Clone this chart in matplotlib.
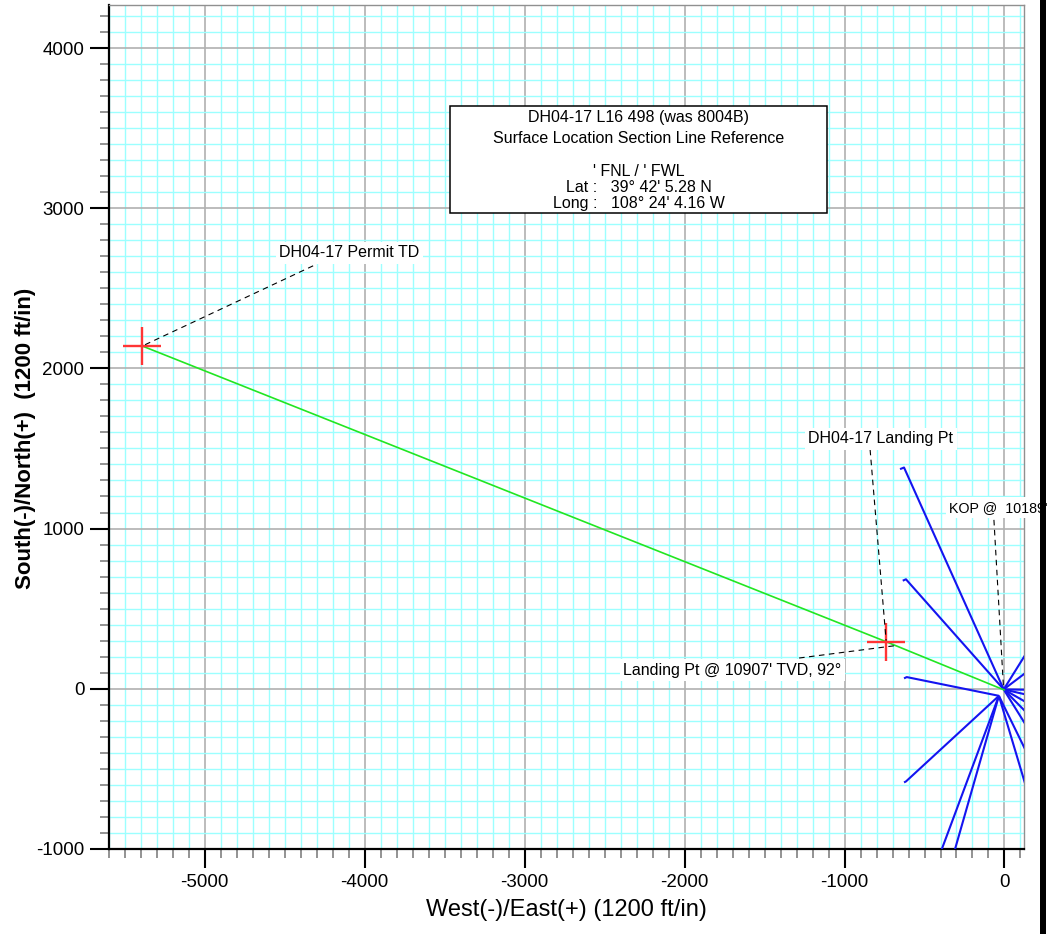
import matplotlib
matplotlib.use("Agg")
import matplotlib.pyplot as plt
from matplotlib.patches import Rectangle
from matplotlib.ticker import MultipleLocator

plt.rcParams['font.family'] = ['Liberation Sans', 'DejaVu Sans']

# ---------------- data ----------------
x_ticks = [-5000, -4000, -3000, -2000, -1000, 0]
y_ticks = [-1000, 0, 1000, 2000, 3000, 4000]
x_limits = (-5600, 122)
y_limits = (-1000, 4272)

# planned wellpath (surface -> landing -> permit TD)
plan_x = [-3, -740, -5390]
plan_y = [-8, 293, 2140]

# target crosses
target_x = [-5390, -740]
target_y = [2140, 293]

# offset wells (spider)
offset_x = [
    [-653, -628, -5],
    [-636, -616, -5],
    [-628, -611, -35],
    [-628, -616, -40],
    [-428, -35],
    [-337, -35],
    [-5, 200],
    [-5, 200],
    [-5, 200],
    [-5, 200],
    [-5, 200],
    [-5, 200],
    [-5, 200],
    [-35, 200],
    [-35, 200],
]
offset_y = [
    [1371, 1381, -5],
    [674, 683, -5],
    [64, 72, -45],
    [-586, -580, -50],
    [-1100, -45],
    [-1100, -45],
    [-5, 323],
    [-5, 150],
    [-5, -8],
    [-5, -52],
    [-5, -122],
    [-5, -213],
    [-5, -334],
    [-45, -524],
    [-45, -832],
]

# annotations: text, text position, leader start, leader end
ann_text = ["DH04-17 Permit TD", "DH04-17 Landing Pt", "KOP @  10189'",
            "Landing Pt @ 10907' TVD, 92\u00b0"]
ann_size = [11.5, 11.5, 10.3, 11.5]
ann_pos_x = [-4534, -1228, -347, -2384]
ann_pos_y = [2722, 1560, 1129, 116]
lead_x0 = [-4322, -840, -66, -1284]
lead_y0 = [2641, 1492, 1054, 191]
lead_x1 = [-5390, -740, -6, -670]
lead_y1 = [2140, 300, 4, 270]

box_lines = ["DH04-17 L16 498 (was 8004B)",
             "Surface Location Section Line Reference",
             "' FNL / ' FWL",
             "Lat :   39\u00b0 42' 5.28 N",
             "Long :   108\u00b0 24' 4.16 W"]
box_line_y = [3566, 3434, 3228, 3128, 3028]
box_x0, box_x1, box_y0, box_y1 = -3466, -1109, 2972, 3641

# ---------------- figure ----------------
W, H = 1057, 934
fig = plt.figure(figsize=(W / 100, H / 100), dpi=100)
L, R, T, B = 108.7, 1024, 4.7, 848.7
ax = fig.add_axes([L / W, (H - B) / H, (R - L) / W, (B - T) / H])
ax.set_xlim(*x_limits)
ax.set_ylim(*y_limits)

ax.xaxis.set_minor_locator(MultipleLocator(100))
ax.yaxis.set_minor_locator(MultipleLocator(100))
ax.set_xticks(x_ticks)
ax.set_yticks(y_ticks)
ax.set_xticklabels([str(v) for v in x_ticks])
ax.set_yticklabels([str(v) for v in y_ticks])

ax.grid(which='minor', color='#9cffff', lw=1.0, zorder=0)
ax.grid(which='major', color='#b0b0b0', lw=1.2, zorder=0)
ax.set_axisbelow(True)

ax.tick_params(which='major', direction='out', length=13.5, width=1.5,
               color='black', labelsize=13.5, pad=4)
ax.tick_params(axis='x', which='major', pad=5)
ax.tick_params(which='minor', direction='out', length=6.5, width=1.2,
               color='#808080')

for s in ['left', 'bottom']:
    ax.spines[s].set_color('black')
    ax.spines[s].set_linewidth(1.6)
for s in ['top', 'right']:
    ax.spines[s].set_color('#909090')
    ax.spines[s].set_linewidth(1.0)

# offset wells
for xs, ys in zip(offset_x, offset_y):
    ax.plot(xs, ys, color='#1414f0', lw=1.5, zorder=3, solid_capstyle='butt')

# planned path
ax.plot(plan_x, plan_y, color='#22e622', lw=1.2, zorder=4)

# targets
ax.plot(target_x, target_y, linestyle='none', marker='+', markersize=28,
        markeredgewidth=1.7, color='#ff3535', zorder=5)

# annotations
for t, fs, tx, ty, x0, y0, x1, y1 in zip(ann_text, ann_size, ann_pos_x, ann_pos_y,
                                         lead_x0, lead_y0, lead_x1, lead_y1):
    ax.plot([x0, x1], [y0, y1], color='black', lw=0.8, ls=(0, (5, 4)), zorder=6)
    ax.text(tx, ty, t, ha='left', va='center', fontsize=fs, zorder=7,
            clip_on=False,
            bbox=dict(facecolor='white', edgecolor='none', pad=2.5))

# info box
ax.add_patch(Rectangle((box_x0, box_y0), box_x1 - box_x0, box_y1 - box_y0,
                       facecolor='white', edgecolor='black', lw=1.1, zorder=7))
for t, y in zip(box_lines, box_line_y):
    ax.text((box_x0 + box_x1) / 2, y, t, ha='center', va='center',
            fontsize=11.5, zorder=8)

# axis labels
ax.text(0.4996, -0.0726, "West(-)/East(+) (1200 ft/in)", transform=ax.transAxes,
        ha='center', va='center', fontsize=17)
ax.text(-0.0914, 0.4866, "South(-)/North(+)  (1200 ft/in)", transform=ax.transAxes,
        ha='center', va='center', fontsize=16, fontweight='bold', rotation=90)

# right black frame bar
fig.patches.append(Rectangle((1040 / W, 0), 6 / W, 1, transform=fig.transFigure,
                             facecolor='black', edgecolor='none', zorder=10))

fig.savefig("out.png", dpi=100)
